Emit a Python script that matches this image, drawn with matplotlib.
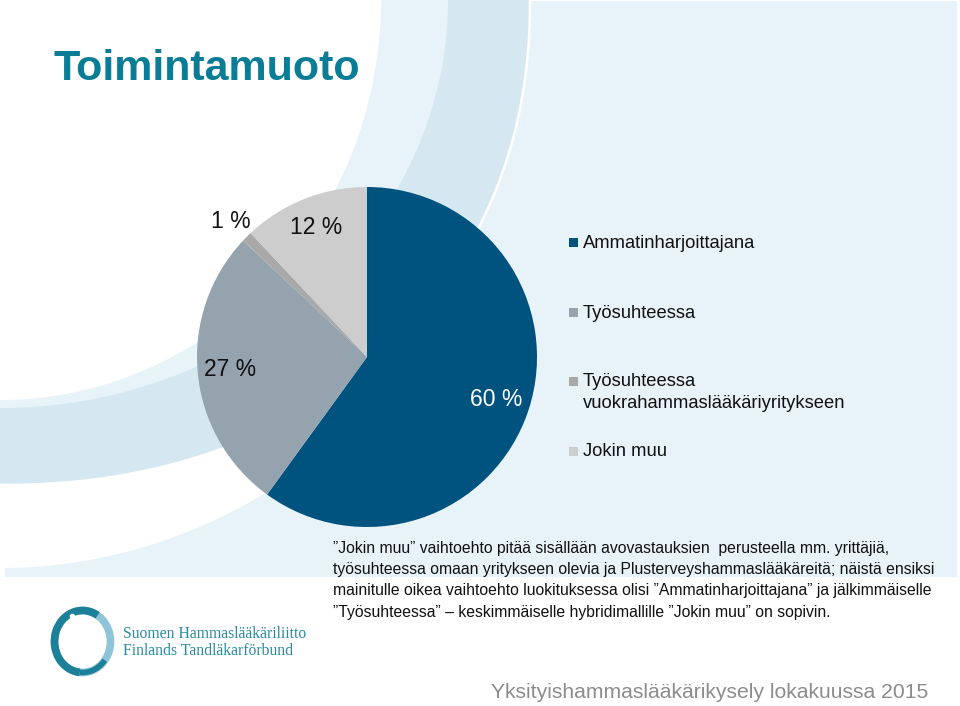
import numpy as np
import matplotlib
matplotlib.use('Agg')
import matplotlib.pyplot as plt
from matplotlib.patches import Polygon, Rectangle, Arc

# data
categories = ['Ammatinharjoittajana', 'Työsuhteessa',
              'Työsuhteessa\nvuokrahammaslääkäriyritykseen', 'Jokin muu']
shares = [60, 27, 1, 12]
colors = ['#00527F', '#95A3AF', '#A9A9A9', '#CDCDCD']

title = 'Toimintamuoto'
note = ('”Jokin muu” vaihtoehto pitää sisällään avovastauksien  perusteella mm. yrittäjiä,\n'
        'työsuhteessa omaan yritykseen olevia ja Plusterveyshammaslääkäreitä; näistä ensiksi\n'
        'mainitulle oikea vaihtoehto luokituksessa olisi ”Ammatinharjoittajana” ja jälkimmäiselle\n'
        '”Työsuhteessa” – keskimmäiselle hybridimallille ”Jokin muu” on sopivin.')
footer = 'Yksityishammaslääkärikysely lokakuussa 2015'
logo_lines = ['Suomen Hammaslääkäriliitto', 'Finlands Tandläkarförbund']

LIGHT = '#E8F3F9'
DARK = '#D5E8F1'
TEAL = '#0A7D96'

plt.rcParams['font.family'] = ['Liberation Sans', 'DejaVu Sans']

fig = plt.figure(figsize=(9.6, 7.06), dpi=100)
fig.patch.set_facecolor('white')

# background swoosh, pixel coordinates
bg = fig.add_axes([0, 0, 1, 1])
bg.set_xlim(0, 960)
bg.set_ylim(706, 0)
bg.axis('off')


def blob(a, b, n=2.0, xmax=None):
    t = np.linspace(0, np.pi / 2, 300)
    x = a * np.cos(t) ** (2 / n)
    y = b * np.sin(t) ** (2 / n)
    if xmax is not None:
        keep = x <= xmax
        x, y = x[keep], y[keep]
        pts = [(-5, -5), (xmax, -5), (xmax, y[0])]
    else:
        pts = [(-5, -5), (a, -5)]
    pts += list(zip(x, y)) + [(-5, b)]
    return np.array(pts)


bg.add_patch(Rectangle((5, 1), 952, 576, facecolor=LIGHT, edgecolor='none'))
bg.add_patch(Polygon(blob(534, 568, xmax=350), closed=True, facecolor='white', edgecolor='none'))
bg.add_patch(Polygon(blob(530, 485, n=2.15), closed=True, facecolor=DARK, edgecolor='white', lw=1.8))
bg.add_patch(Polygon(blob(448, 408, n=2.0), closed=True, facecolor=LIGHT, edgecolor='none'))
bg.add_patch(Polygon(blob(381, 400), closed=True, facecolor='white', edgecolor='none'))

# title
bg.text(54, 80, title, fontsize=31, fontweight='bold', color=TEAL, va='baseline')

# pie
cx, cy, R = 367, 357, 170
ax = fig.add_axes([(cx - R) / 960, (706 - cy - R) / 706, 2 * R / 960, 2 * R / 706])
wedges, _ = ax.pie(shares, colors=colors, startangle=90, counterclock=False,
                   radius=1, wedgeprops=dict(linewidth=0))
ax.set_xlim(-1, 1)
ax.set_ylim(-1, 1)
ax.axis('off')

label_dist = [0.80, 0.81, 1.13, 0.82]
label_col = ['white', '#111111', '#111111', '#111111']
for w, s, d, c in zip(wedges, shares, label_dist, label_col):
    ang = np.deg2rad((w.theta1 + w.theta2) / 2)
    ax.text(d * np.cos(ang), d * np.sin(ang), f'{s} %', ha='center', va='center',
            fontsize=16.5, color=c, clip_on=False)

# legend
legend_y = [243, 313, 382, 452]
for lab, col, y in zip(categories, colors, legend_y):
    bg.add_patch(Rectangle((569, y - 5), 9, 9, facecolor=col, edgecolor='none'))
    for k, line in enumerate(lab.split('\n')):
        bg.text(583, y + 22 * k, line, fontsize=13.2, color='#111111', va='center')

# note
bg.text(333, 541, note, fontsize=11.3, color='#111111', va='top', linespacing=1.52)
# footer
bg.text(491, 693, footer, fontsize=15.2, color='#8C8C8C', va='center')

# logo
lx, ly = 82.5, 641.5
bg.add_patch(Arc((lx, ly), 56, 62, theta1=0, theta2=360, color='#8FC3D8', lw=5.5))
bg.add_patch(Arc((lx, ly), 56, 62, theta1=95, theta2=300, color='#1C8099', lw=5.5))
bg.add_patch(Arc((lx, ly), 56, 62, theta1=40, theta2=95, color='#1C8099', lw=4))
bg.plot([72], [616], 'o', color='white', ms=3)
for k, line in enumerate(logo_lines):
    bg.text(123, 638 + 17 * k, line, fontsize=11.3, color='#2A8B9E', va='baseline',
            family=['Liberation Serif', 'DejaVu Serif'])

fig.savefig('out.png', dpi=100, facecolor='white')
